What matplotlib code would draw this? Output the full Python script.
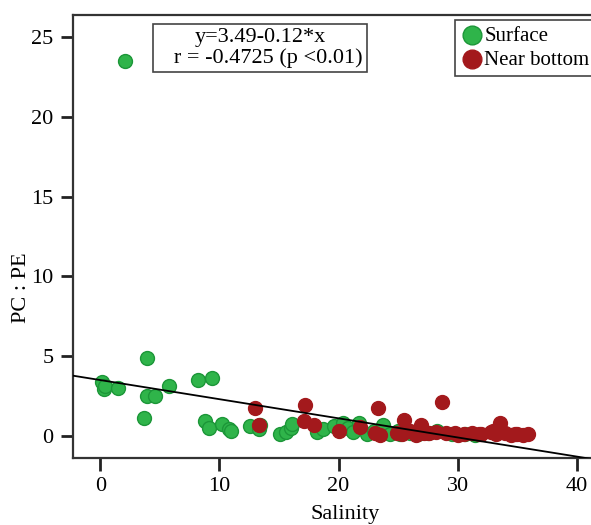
import matplotlib
matplotlib.use("Agg")
import matplotlib.pyplot as plt
import numpy as np

plt.rcParams['font.family'] = ['Liberation Serif', 'DejaVu Serif']

# surface samples (salinity, PC:PE)
surface_x = [2.1, 0.1, 0.3, 0.4, 1.5, 3.9, 3.9, 4.6, 3.7, 5.8, 8.2, 9.4, 8.8, 9.1,
             10.2, 10.8, 11.0, 12.6, 13.3, 13.4, 15.1, 15.6, 16.0, 16.1, 18.2, 18.7,
             19.6, 20.4, 20.8, 21.2, 21.7, 22.4, 23.0, 23.7, 24.3, 25.0, 25.2, 26.0,
             26.7, 27.5, 28.3, 29.5, 30.6, 31.5]
surface_y = [23.5, 3.4, 2.9, 3.1, 3.0, 4.9, 2.5, 2.5, 1.1, 3.1, 3.5, 3.6, 0.9, 0.5,
             0.75, 0.45, 0.3, 0.6, 0.4, 0.7, 0.1, 0.25, 0.5, 0.75, 0.25, 0.4,
             0.6, 0.8, 0.5, 0.25, 0.8, 0.1, 0.3, 0.7, 0.1, 0.3, 0.1, 0.2,
             0.1, 0.15, 0.3, 0.1, 0.1, 0.05]

# near bottom samples
bottom_x = [13.0, 13.3, 17.2, 17.1, 17.9, 20.0, 21.8, 23.3, 23.1, 23.5, 25.5, 24.9,
            26.0, 26.9, 27.6, 28.7, 28.2, 29.0, 29.8, 30.5, 31.2, 32.0, 32.8, 33.2,
            33.6, 34.0, 34.5, 35.0, 35.5, 35.9, 25.3, 26.5, 27.2, 30.0, 31.8, 33.0, 34.8]
bottom_y = [1.76, 0.7, 1.9, 0.9, 0.7, 0.3, 0.55, 1.75, 0.15, 0.05, 1.0, 0.2,
            0.3, 0.7, 0.15, 2.1, 0.25, 0.15, 0.2, 0.1, 0.15, 0.1, 0.25, 0.1,
            0.8, 0.15, 0.05, 0.1, 0.05, 0.1, 0.1, 0.05, 0.2, 0.05, 0.1, 0.3, 0.1]

intercept, slope = 3.49, -0.12

fig = plt.figure(figsize=(5.91, 5.25), dpi=100)
ax = fig.add_axes([73 / 591, 67 / 525, 0.953, 443 / 525])

xlim = (-2.3, 45)
ax.set_xlim(*xlim)
ax.set_ylim(-1.4, 26.4)

ax.scatter(surface_x, surface_y, s=100, c='#2fb44a', edgecolors='#1c9638',
           linewidths=1, label='Surface', zorder=3)
ax.scatter(bottom_x, bottom_y, s=100, c='#a3191c', edgecolors='#a3191c',
           linewidths=1, label='Near bottom', zorder=4)

lx = np.array(xlim)
ax.plot(lx, intercept + slope * lx, color='black', lw=1.3, zorder=5)

ax.set_xticks([0, 10, 20, 30, 40])
ax.set_yticks([0, 5, 10, 15, 20, 25])
ax.tick_params(direction='out', length=9, width=2, labelsize=16, pad=5,
               color='#222222')
for side in ['left', 'bottom', 'top']:
    ax.spines[side].set_linewidth(1.6)
    ax.spines[side].set_color('#333333')
ax.spines['right'].set_visible(False)

fig.text(260 / 591, 1 - 48 / 525, 'y=3.49-0.12*x\n   r = -0.4725 (p <0.01)',
         ha='center', va='center', fontsize=16, linespacing=1.05,
         bbox=dict(boxstyle='square,pad=0.2', fc='white', ec='#444444', lw=1.2))

leg = ax.legend(loc='upper left', bbox_to_anchor=((455 - 73) / (0.953 * 591), 1 - 5 / 443),
                fontsize=15, markerscale=1.35, handletextpad=0.1, borderpad=0.3,
                labelspacing=0.2, handlelength=1.0, borderaxespad=0,
                fancybox=False, edgecolor='#444444', framealpha=1)
leg.get_frame().set_linewidth(1.2)

fig.text(22 / 591, 1 - 288 / 525, 'PC : PE', rotation=90, ha='center',
         va='center', fontsize=16)
fig.text(345 / 591, 1 - 515 / 525, 'Salinity', ha='center', va='center',
         fontsize=16)

fig.savefig('out.png', dpi=100)
